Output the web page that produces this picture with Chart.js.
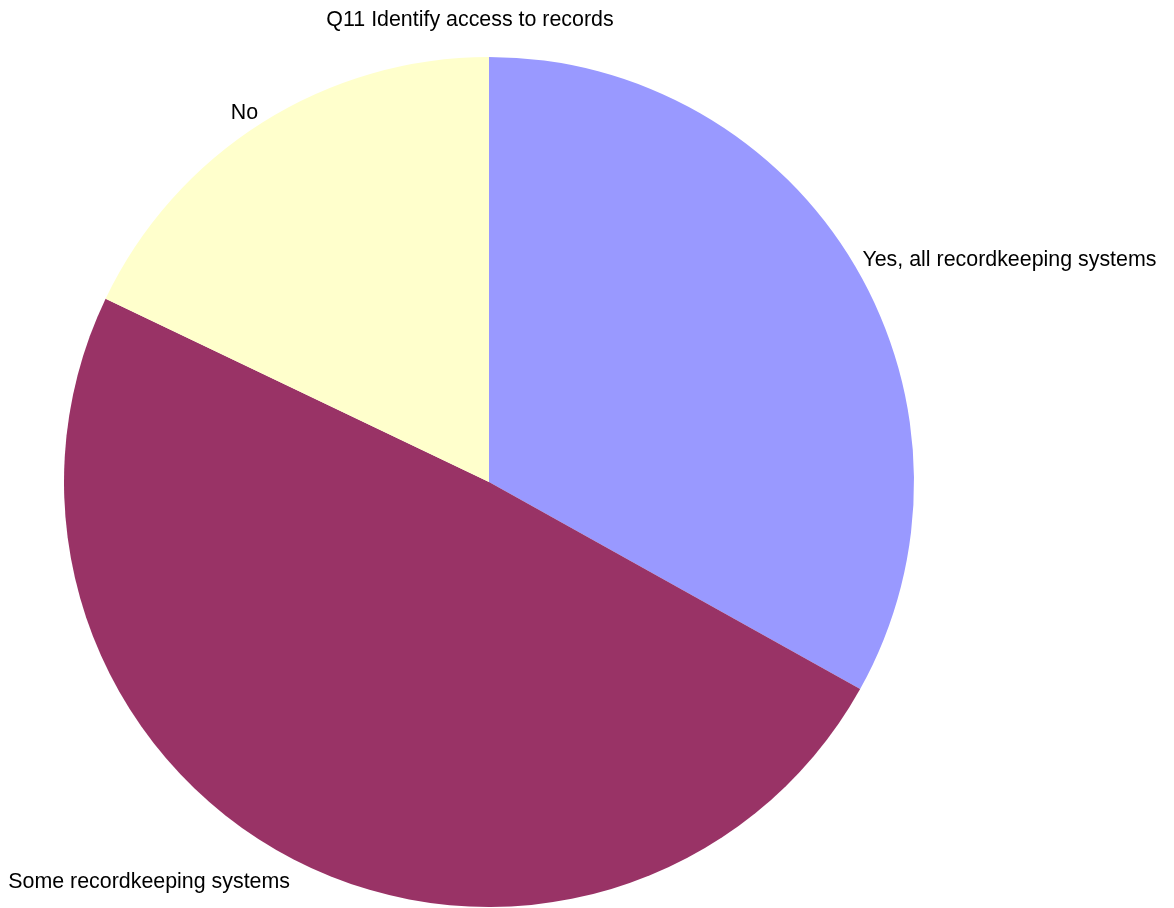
<!DOCTYPE html>
<html>
<head>
<meta charset="utf-8">
<script src="https://cdn.jsdelivr.net/npm/chart.js@4"></script>
<style>
  html, body { margin: 0; padding: 0; background: #fff; }
  #wrap { width: 1174px; height: 908px; position: relative; }
</style>
</head>
<body>
<div id="wrap"><canvas id="pieChart"></canvas></div>
<script>
// Q11 pie: values (percent of answers)
const categories = ['Yes, all recordkeeping systems', 'Some recordkeeping systems', 'No'];
const shares = [33.1, 49.0, 17.9];
const sliceColors = ['#9999FF', '#993366', '#FFFFCC'];
const chartTitle = 'Q11 Identify access to records';

const FONT = '21.4px "Liberation Sans", Arial, sans-serif';

// draws the title and the slice labels outside the pie
const outsideLabels = {
  id: 'outsideLabels',
  afterDraw(chart) {
    const ctx = chart.ctx;
    ctx.save();
    ctx.font = FONT;
    ctx.fillStyle = '#000';

    ctx.textAlign = 'center';
    ctx.textBaseline = 'middle';
    ctx.fillText(chartTitle, 470, 20);

    const arcs = chart.getDatasetMeta(0).data;
    arcs.forEach((arc, i) => {
      const p = arc.getProps(['x', 'y', 'startAngle', 'endAngle', 'outerRadius'], true);
      const mid = (p.startAngle + p.endAngle) / 2;
      const r = p.outerRadius + 8;
      const x = p.x + Math.cos(mid) * r;
      const y = p.y + Math.sin(mid) * r;
      ctx.textAlign = Math.cos(mid) >= 0 ? 'left' : 'right';
      ctx.textBaseline = 'middle';
      // lower half labels hang below the anchor
      ctx.fillText(categories[i], x, Math.sin(mid) > 0 ? y + 16 : y - 3);
    });
    ctx.restore();
  }
};

const pieCtx = document.getElementById('pieChart').getContext('2d');
new Chart(pieCtx, {
  type: 'pie',
  data: {
    labels: categories,
    datasets: [{
      data: shares,
      backgroundColor: sliceColors,
      borderWidth: 0
    }]
  },
  options: {
    responsive: true,
    maintainAspectRatio: false,
    animation: false,
    layout: {
      padding: { left: 64, right: 260, top: 57, bottom: 1 }
    },
    plugins: {
      legend: { display: false },
      title: { display: false },
      tooltip: { enabled: false }
    }
  },
  plugins: [outsideLabels]
});
</script>
</body>
</html>
